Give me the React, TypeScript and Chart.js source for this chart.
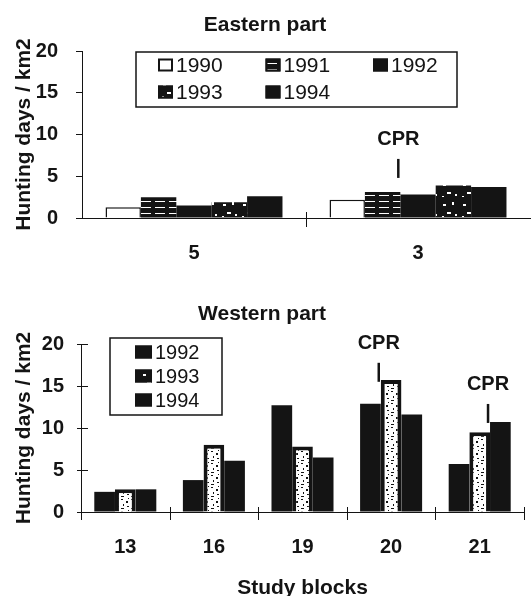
import React, { useEffect, useRef } from 'react';
import { Chart, registerables } from 'chart.js';

Chart.register(...registerables);

const FONT = '"Liberation Sans", Arial, Helvetica, sans-serif';
const BLACK = '#141414';

// ---- Eastern part ----
const eastBlocks = ['5', '3'];
const east1990 = [1.3, 2.2];
const east1991 = [2.5, 3.1];
const east1992 = [1.5, 2.8];
const east1993 = [1.9, 3.9];
const east1994 = [2.6, 3.7];
const eastCPR = [{ block: '3', afterYear: '1991', value: 4.8 }];

// ---- Western part ----
const westBlocks = ['13', '16', '19', '20', '21'];
const west1992 = [2.4, 3.8, 12.7, 12.9, 5.7];
const west1993 = [2.7, 8.0, 7.8, 15.7, 9.5];
const west1994 = [2.7, 6.1, 6.5, 11.6, 10.7];
const westCPR = [
  { block: '20', afterYear: '1992', value: 15.5 },
  { block: '21', afterYear: '1993', value: 10.6 },
];

const yMin = 0;
const yMax = 20;
const yStep = 5;
const yTitle = 'Hunting days / km2';
const xTitle = 'Study blocks';
const eastTitle = 'Eastern part';
const westTitle = 'Western part';
const cprText = 'CPR';

function makePattern(w: number, h: number, bg: string, fg: string, rects: number[][]) {
  const c = document.createElement('canvas');
  c.width = w;
  c.height = h;
  const g = c.getContext('2d')!;
  g.fillStyle = bg;
  g.fillRect(0, 0, w, h);
  g.fillStyle = fg;
  rects.forEach(([x, y, rw, rh]) => g.fillRect(x, y, rw, rh));
  return g.createPattern(c, 'repeat')!;
}

function makeDecor(cfg: any) {
  return {
    id: 'decor',
    afterDraw(chart: any) {
      const { ctx, chartArea } = chart;
      const xs = chart.scales.x;
      const ys = chart.scales.y;
      const n = chart.data.labels.length;
      const line = (x1: number, y1: number, x2: number, y2: number) => {
        ctx.beginPath();
        ctx.moveTo(x1, y1);
        ctx.lineTo(x2, y2);
        ctx.stroke();
      };
      ctx.save();
      ctx.strokeStyle = BLACK;
      ctx.lineWidth = 1;
      const step = xs.getPixelForTick(1) - xs.getPixelForTick(0);
      for (let i = 0; i <= n; i++) {
        if (!cfg.edgeTicks && (i === 0 || i === n)) continue;
        const px = Math.round(xs.getPixelForTick(0) - step / 2 + i * step) + 0.5;
        line(px, chartArea.bottom - cfg.xTickUp, px, chartArea.bottom + cfg.xTickDown);
      }
      if (cfg.yTickIn) {
        ys.ticks.forEach((t: any) => {
          const py = Math.round(ys.getPixelForValue(t.value)) + 0.5;
          line(chartArea.left, py, chartArea.left + cfg.yTickIn, py);
        });
      }
      // CPR markers
      ctx.fillStyle = BLACK;
      ctx.font = `bold 20px ${FONT}`;
      ctx.textAlign = 'center';
      ctx.textBaseline = 'middle';
      cfg.annotations.forEach((a: any) => {
        const ci = chart.data.labels.indexOf(a.block);
        const di = chart.data.datasets.findIndex((d: any) => d.label === a.afterYear);
        const bar = chart.getDatasetMeta(di).data[ci];
        const bx = bar.x + bar.width / 2 - 2;
        const by = ys.getPixelForValue(a.value);
        ctx.lineWidth = 2.5;
        line(bx, by - 19, bx, by);
        ctx.fillText(cprText, bx, by - 38);
      });
      // legend box
      const L = cfg.legend;
      ctx.fillStyle = '#fff';
      ctx.fillRect(L.left, L.top, L.width, L.height);
      ctx.lineWidth = 1.5;
      ctx.strokeStyle = BLACK;
      ctx.strokeRect(L.left, L.top, L.width, L.height);
      ctx.font = `${L.fontSize}px ${FONT}`;
      ctx.textAlign = 'left';
      ctx.textBaseline = 'middle';
      chart.data.datasets.forEach((d: any, i: number) => {
        const col = i % L.cols;
        const row = Math.floor(i / L.cols);
        const sx = L.left + L.colStart + col * L.colWidth;
        const cy = L.top + L.rowStart + row * L.rowHeight;
        ctx.fillStyle = d.legendFill;
        ctx.fillRect(sx, cy - L.swH / 2, L.swW, L.swH);
        ctx.lineWidth = 2;
        ctx.strokeRect(sx + 1, cy - L.swH / 2 + 1, L.swW - 2, L.swH - 2);
        ctx.fillStyle = BLACK;
        ctx.fillText(d.label, sx + L.textGap, cy + 1);
      });
      ctx.restore();
    },
  };
}

function axisFont(size: number, bold = true) {
  return { family: FONT, size, weight: bold ? 'bold' : 'normal', lineHeight: 1.2 } as any;
}

function baseOptions(o: any) {
  return {
    responsive: false,
    animation: false,
    devicePixelRatio: 1,
    events: [],
    datasets: { bar: { categoryPercentage: o.catPct, barPercentage: 1 } },
    layout: { padding: { left: 0, right: o.padRight, top: 0, bottom: 0 } },
    plugins: {
      legend: { display: false },
      tooltip: { enabled: false },
      title: {
        display: true,
        text: o.title,
        color: BLACK,
        font: axisFont(21),
        padding: { top: o.titleTop, bottom: o.titleBottom },
      },
    },
    scales: {
      x: {
        grid: { display: false },
        border: { display: true, color: BLACK, width: 1 },
        ticks: { color: BLACK, font: axisFont(20), padding: o.xPad },
        title: o.xTitle
          ? {
              display: true,
              text: o.xTitle,
              color: BLACK,
              font: { family: FONT, size: 21, weight: 'bold', lineHeight: 0.6 },
              padding: { top: 0, bottom: 1 },
            }
          : { display: false },
        afterFit: (s: any) => {
          s.height = o.xHeight;
        },
      },
      y: {
        min: yMin,
        max: yMax,
        ticks: { stepSize: yStep, color: BLACK, font: axisFont(20), padding: o.yPad },
        grid: { drawOnChartArea: false, drawTicks: true, tickLength: o.yTickLen, color: BLACK },
        border: { display: true, color: BLACK, width: 1 },
        title: {
          display: true,
          text: yTitle,
          color: BLACK,
          font: axisFont(21),
          padding: { top: 11.5, bottom: 0 },
        },
        afterFit: (s: any) => {
          s.width = o.yWidth;
        },
      },
    },
  };
}

export default function App() {
  const refA = useRef<HTMLCanvasElement>(null);
  const refB = useRef<HTMLCanvasElement>(null);

  useEffect(() => {
    const stripes = makePattern(14, 6, BLACK, '#fff', [[1, 3, 10, 1]]);
    const speckDark = makePattern(20, 20, BLACK, '#fff', [
      [3, 4, 3, 2], [12, 2, 2, 3], [7, 12, 4, 2], [15, 14, 2, 2], [2, 16, 2, 1],
    ]);
    const speckLight = makePattern(10, 12, '#fff', BLACK, [
      [1, 1, 2, 1], [6, 3, 2, 2], [3, 6, 1, 2], [7, 8, 2, 1], [1, 10, 3, 1], [8, 0, 1, 1],
    ]);

    const chartA = new Chart(refA.current!, {
      type: 'bar',
      data: {
        labels: eastBlocks,
        datasets: [
          { label: '1990', data: east1990, backgroundColor: '#fff', borderColor: BLACK, borderWidth: 1.5, legendFill: '#fff' },
          { label: '1991', data: east1991, backgroundColor: stripes, borderWidth: 0, legendFill: stripes },
          { label: '1992', data: east1992, backgroundColor: BLACK, borderWidth: 0, legendFill: BLACK },
          { label: '1993', data: east1993, backgroundColor: speckDark, borderWidth: 0, legendFill: speckDark },
          { label: '1994', data: east1994, backgroundColor: BLACK, borderWidth: 0, legendFill: BLACK },
        ] as any,
      },
      options: baseOptions({
        catPct: 0.79,
        padRight: 2,
        title: eastTitle,
        titleTop: 12.4,
        titleBottom: 13.4,
        xPad: 15.7,
        xHeight: 52,
        yPad: 18,
        yTickLen: 6,
        yWidth: 82,
      }) as any,
      plugins: [
        makeDecor({
          xTickUp: 6,
          xTickDown: 9,
          edgeTicks: false,
          yTickIn: 0,
          annotations: eastCPR,
          legend: {
            left: 136, top: 52, width: 321, height: 55, cols: 3, colStart: 22, colWidth: 107.5,
            rowStart: 13, rowHeight: 27, swW: 15, swH: 13, textGap: 18, fontSize: 21,
          },
        }),
      ],
    });

    const chartB = new Chart(refB.current!, {
      type: 'bar',
      data: {
        labels: westBlocks,
        datasets: [
          { label: '1992', data: west1992, backgroundColor: BLACK, borderWidth: 0, legendFill: BLACK },
          { label: '1993', data: west1993, backgroundColor: speckLight, borderColor: BLACK, borderWidth: 4, legendFill: speckDark },
          { label: '1994', data: west1994, backgroundColor: BLACK, borderWidth: 0, legendFill: BLACK },
        ] as any,
      },
      options: baseOptions({
        catPct: 0.7,
        padRight: 8,
        title: westTitle,
        titleTop: 32,
        titleBottom: 16.8,
        xPad: 15.3,
        xHeight: 84,
        xTitle: xTitle,
        yPad: 13,
        yTickLen: 4,
        yWidth: 81,
      }) as any,
      plugins: [
        makeDecor({
          xTickUp: 5,
          xTickDown: 8,
          edgeTicks: true,
          yTickIn: 7,
          annotations: westCPR,
          legend: {
            left: 110, top: 68, width: 112, height: 77, cols: 1, colStart: 25, colWidth: 0,
            rowStart: 14, rowHeight: 24, swW: 17, swH: 13, textGap: 20, fontSize: 20,
          },
        }),
      ],
    });

    return () => {
      chartA.destroy();
      chartB.destroy();
    };
  }, []);

  return (
    <div style={{ position: 'fixed', left: 0, top: 0, width: 532, height: 596, background: '#fff' }}>
      <canvas ref={refA} width={532} height={270} style={{ position: 'absolute', left: 0, top: 0, display: 'block' }} />
      <canvas ref={refB} width={532} height={326} style={{ position: 'absolute', left: 0, top: 270, display: 'block' }} />
    </div>
  );
}
